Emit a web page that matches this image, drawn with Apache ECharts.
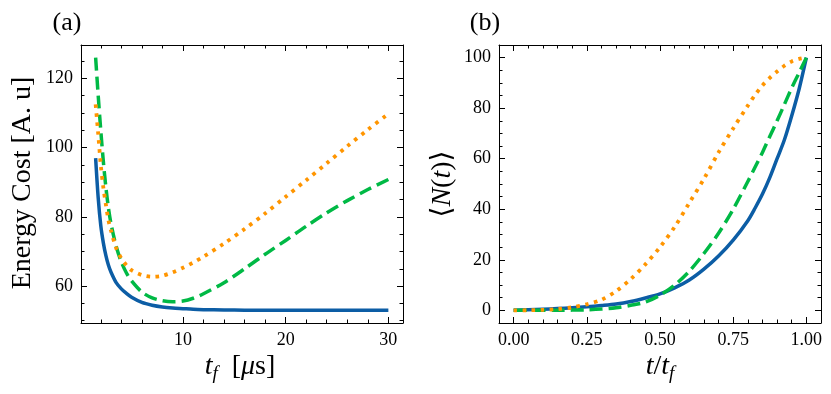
<!DOCTYPE html>
<html>
<head>
<meta charset="utf-8">
<script src="https://cdn.jsdelivr.net/npm/echarts@6/dist/echarts.min.js"></script>
<style>
  html, body { margin: 0; padding: 0; background: #fff; }
  #chart { width: 831px; height: 394px; }
</style>
</head>
<body>
<div id="chart"></div>
<script>
// panel (a): energy cost vs t_f
const tfA = [1.5, 1.75, 2, 2.25, 2.5, 2.75, 3, 3.5, 4, 4.5, 5, 6, 7, 8, 9, 10, 11, 12, 14, 16, 18, 20, 22, 24, 26, 28, 30];
const costBlue = [97, 85.5, 77.5, 72.5, 68.8, 66, 64, 61, 59.2, 57.9, 56.8, 55.3, 54.5, 54, 53.7, 53.5, 53.3, 53.2, 53.1, 53.05, 53, 53, 53, 53, 53, 53, 53];
const costGreen = [126, 115, 105, 96, 88.5, 82.5, 78, 71.5, 67, 63.8, 61.5, 58.3, 56.6, 55.8, 55.5, 55.7, 56.5, 57.8, 61, 65, 69.2, 73.2, 77.3, 81.2, 84.7, 87.9, 90.8];
const costOrange = [112.5, 104, 95, 88.5, 83.5, 79, 76, 71, 68, 66, 64.6, 63.2, 62.7, 63, 64, 65.3, 66.8, 68.5, 72.3, 76.5, 81, 85.8, 90.6, 95.5, 100.4, 105.2, 109.8];

// panel (b): <N(t)> vs t/t_f
const tB = [0, 0.05, 0.1, 0.15, 0.2, 0.25, 0.3, 0.35, 0.4, 0.45, 0.5, 0.55, 0.6, 0.65, 0.7, 0.75, 0.8, 0.825, 0.85, 0.875, 0.9, 0.925, 0.95, 0.975, 1.0];
const nBlue = [0, 0.2, 0.4, 0.7, 1.0, 1.4, 1.9, 2.5, 3.5, 4.9, 6.5, 8.9, 12, 16.3, 21.5, 27.8, 35.5, 40.5, 46, 52.5, 60, 67.5, 77, 87.5, 100];
const nGreen = [0, 0, 0, 0, 0.1, 0.2, 0.5, 1, 2, 3.3, 6, 10, 15.5, 22.5, 30.5, 40, 51, 56.7, 62.5, 68.8, 75, 81.5, 88, 94, 100];
const nOrange = [0, 0.05, 0.2, 0.5, 1.2, 2.4, 4.2, 7.6, 12.4, 18.2, 25, 33, 42.5, 52, 62.5, 72, 81, 85.3, 89, 92, 94.5, 96.8, 98.5, 99.5, 100];

// tick labels
const xTicksA = [10, 20, 30];
const yTicksA = [60, 80, 100, 120];
const xTicksB = [0, 0.25, 0.5, 0.75, 1.0];
const yTicksB = [0, 20, 40, 60, 80, 100];

const serif = "'Liberation Serif', 'DejaVu Serif', serif";
const BLUE = '#0C5DA5', GREEN = '#00B945', ORANGE = '#FF9500';

function steps(min, max, step) {
    let out = [];
    let s = Math.ceil(min / step - 1e-9);
    for (let v = s * step; v <= max + 1e-9; v = (++s) * step) out.push(+v.toFixed(6));
    return out;
}

// four axes per side pair: main (labels), minor, mirror main, mirror minor
function makeAxes(dim, grid, min, max, majors, minorStep, fmt) {
    const sides = dim === 'x' ? ['bottom', 'top'] : ['left', 'right'];
    const minors = steps(min, max, minorStep).filter(v => majors.every(m => Math.abs(m - v) > 1e-6));
    let res = [];
    sides.forEach((pos, k) => {
        [true, false].forEach(isMajor => {
            res.push({
                type: 'value', gridIndex: grid, min: min, max: max, position: pos,
                splitLine: { show: false },
                axisLine: { show: isMajor, onZero: false, lineStyle: { color: '#000', width: 1 } },
                axisTick: {
                    show: true, inside: true, length: isMajor ? 6 : 3.5,
                    customValues: isMajor ? majors : minors,
                    lineStyle: { color: '#000', width: 1 }
                },
                axisLabel: {
                    show: isMajor && k === 0, customValues: majors, formatter: fmt,
                    fontFamily: serif, fontSize: 18, color: '#000', margin: 8
                }
            });
        });
    });
    return res;
}

function pairs(xs, ys) { return xs.map((x, i) => [x, ys[i]]); }

function line(xi, yi, data, color, type) {
    return {
        type: 'line', xAxisIndex: xi, yAxisIndex: yi, data: data,
        showSymbol: false, smooth: 0.3,
        lineStyle: { color: color, width: type === 'dotted' ? 3.8 : 3.5,
                     type: type === 'dashed' ? [13, 6] : (type === 'dotted' ? [3.5, 5.5] : 'solid'),
                     cap: 'butt', join: 'round' },
        z: 3
    };
}

const intFmt = v => String(Math.round(v));
const fixFmt = v => v.toFixed(2);

const xAxes = makeAxes('x', 0, 0.075, 31.425, xTicksA, 2, intFmt)
    .concat(makeAxes('x', 1, -0.05, 1.05, xTicksB, 0.05, fixFmt));
const yAxes = makeAxes('y', 0, 49.35, 129.65, yTicksA, 5, intFmt)
    .concat(makeAxes('y', 1, -5, 105, yTicksB, 5, intFmt));

const richMath = {
    i: { fontFamily: serif, fontStyle: 'italic', fontSize: 28, color: '#000' },
    r: { fontFamily: serif, fontSize: 28, color: '#000' },
    s: { fontFamily: serif, fontStyle: 'italic', fontSize: 19, color: '#000', padding: [14, 0, 0, 0] }
};

const option = {
    backgroundColor: '#fff',
    animation: false,
    grid: [
        { left: 81, top: 45, width: 322, height: 278 },
        { left: 499, top: 45, width: 322, height: 278 }
    ],
    xAxis: xAxes,
    yAxis: yAxes,
    series: [
        line(0, 0, pairs(tfA, costBlue), BLUE, 'solid'),
        line(0, 0, pairs(tfA, costGreen), GREEN, 'dashed'),
        line(0, 0, pairs(tfA, costOrange), ORANGE, 'dotted'),
        line(4, 4, pairs(tB, nBlue), BLUE, 'solid'),
        line(4, 4, pairs(tB, nGreen), GREEN, 'dashed'),
        line(4, 4, pairs(tB, nOrange), ORANGE, 'dotted')
    ],
    graphic: [
        { type: 'text', x: 67, y: 23, style: { text: '(a)', font: '26px ' + serif, fill: '#000', align: 'center', verticalAlign: 'middle' } },
        { type: 'text', x: 485, y: 23, style: { text: '(b)', font: '26px ' + serif, fill: '#000', align: 'center', verticalAlign: 'middle' } },
        { type: 'text', x: 23, y: 183, rotation: Math.PI / 2,
          style: { text: 'Energy Cost [A. u]', font: '28px ' + serif, fill: '#000', align: 'center', verticalAlign: 'middle' } },
        { type: 'text', x: 443, y: 184, rotation: Math.PI / 2,
          style: { text: '{r|⟨}{i|N}{r|(}{i|t}{r|)}{r|⟩}', rich: richMath, align: 'center', verticalAlign: 'middle' } },
        { type: 'text', x: 240, y: 367,
          style: { text: '{i|t}{s|f}{r|  [}{i|μ}{r|s]}', rich: richMath, align: 'center', verticalAlign: 'middle' } },
        { type: 'text', x: 660, y: 367,
          style: { text: '{i|t}{r|/}{i|t}{s|f}', rich: richMath, align: 'center', verticalAlign: 'middle' } }
    ]
};

const chart = echarts.init(document.getElementById('chart'));
chart.setOption(option);
</script>
</body>
</html>
